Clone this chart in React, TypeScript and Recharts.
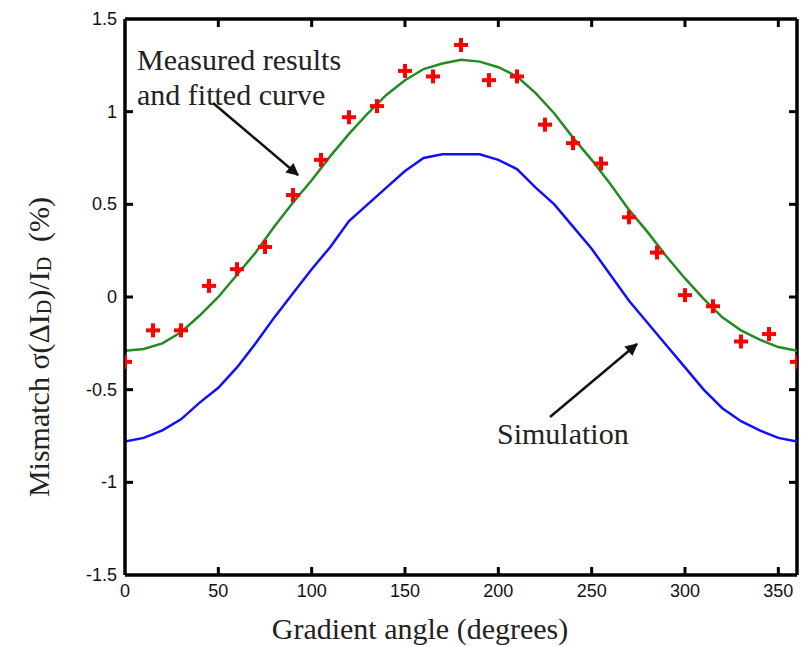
import { ComposedChart, Line, Scatter, XAxis, YAxis, ReferenceLine } from 'recharts';

// fitted curve + simulation, sampled every 10 degrees
const fitAngles = [0, 10, 20, 30, 40, 50, 60, 70, 80, 90, 100, 110, 120, 130, 140, 150, 160, 170, 180, 190, 200, 210, 220, 230, 240, 250, 260, 270, 280, 290, 300, 310, 320, 330, 340, 350, 360];
const fitValues = [-0.29, -0.28, -0.25, -0.19, -0.1, 0.0, 0.12, 0.24, 0.38, 0.51, 0.63, 0.76, 0.88, 0.99, 1.09, 1.17, 1.23, 1.26, 1.28, 1.27, 1.24, 1.19, 1.1, 0.99, 0.86, 0.74, 0.61, 0.47, 0.35, 0.22, 0.1, -0.01, -0.11, -0.18, -0.23, -0.27, -0.29];
const simValues = [-0.78, -0.76, -0.72, -0.66, -0.57, -0.49, -0.38, -0.25, -0.11, 0.02, 0.15, 0.27, 0.41, 0.5, 0.59, 0.68, 0.75, 0.77, 0.77, 0.77, 0.74, 0.69, 0.59, 0.5, 0.38, 0.26, 0.12, -0.02, -0.14, -0.26, -0.38, -0.5, -0.6, -0.67, -0.72, -0.76, -0.78];

// measured points, every 15 degrees
const measAngles = [0, 15, 30, 45, 60, 75, 90, 105, 120, 135, 150, 165, 180, 195, 210, 225, 240, 255, 270, 285, 300, 315, 330, 345, 360];
const measValues = [-0.35, -0.18, -0.18, 0.06, 0.15, 0.27, 0.55, 0.74, 0.97, 1.03, 1.22, 1.19, 1.36, 1.17, 1.19, 0.93, 0.83, 0.72, 0.43, 0.24, 0.01, -0.05, -0.24, -0.2, -0.35];

const xTicks = [0, 50, 100, 150, 200, 250, 300, 350];
const yTicks = [-1.5, -1, -0.5, 0, 0.5, 1, 1.5];

const X_MIN = 0;
const X_MAX = 360;
const Y_MIN = -1.5;
const Y_MAX = 1.5;

const tickFont = '"Liberation Sans Narrow", "Arial Narrow", "Liberation Sans", Arial, sans-serif';
const serif = '"Liberation Serif", "Times New Roman", serif';

const fitData = fitAngles.map((a, i) => ({ angle: a, fit: fitValues[i], sim: simValues[i] }));
const measData = measAngles.map((a, i) => ({ angle: a, value: measValues[i] }));

// positions of the inward tick marks on all four sides
const innerX = xTicks.filter((t) => t > X_MIN);
const innerY = yTicks.filter((t) => t > Y_MIN && t < Y_MAX);
const bottomMarks = innerX.map((t) => ({ angle: t, value: Y_MIN }));
const topMarks = innerX.map((t) => ({ angle: t, value: Y_MAX }));
const leftMarks = innerY.map((t) => ({ angle: X_MIN, value: t }));
const rightMarks = innerY.map((t) => ({ angle: X_MAX, value: t }));

// a tick drawn as a small filled rectangle hugging the frame, pointing inward
const TICK = 8;
const tickShape = (side: 'b' | 't' | 'l' | 'r') => ({ cx, cy }: any) => {
  if (cx == null || cy == null) return <g />;
  if (side === 'b') return <rect x={cx - 1.5} y={cy - TICK} width={3} height={TICK} fill="#000" />;
  if (side === 't') return <rect x={cx - 1.5} y={cy} width={3} height={TICK} fill="#000" />;
  if (side === 'l') return <rect x={cx} y={cy - 1.5} width={TICK} height={3} fill="#000" />;
  return <rect x={cx - TICK} y={cy - 1.5} width={TICK} height={3} fill="#000" />;
};

const BottomTick = ({ x, y, payload }: any) => (
  <text x={x} y={y + 22} textAnchor="middle" fontSize={18} fontFamily={tickFont} fill="#111">
    {payload.value}
  </text>
);

const LeftTick = ({ x, y, payload }: any) => (
  <text x={x - 8} y={y + 6} textAnchor="end" fontSize={18} fontFamily={tickFont} fill="#111">
    {payload.value}
  </text>
);

const PlusMarker = ({ cx, cy }: any) => (
  <g>
    <rect x={cx - 7} y={cy - 2} width={14} height={4} fill="#ff0000" />
    <rect x={cx - 2} y={cy - 7} width={4} height={14} fill="#ff0000" />
  </g>
);

export default function App() {
  return (
    <div style={{ position: 'absolute', left: 0, top: 0, width: 803, height: 647, background: '#fff' }}>
      <ComposedChart width={803} height={647} margin={{ top: 19, right: 6, bottom: 0, left: 0 }}>
        <XAxis
          dataKey="angle"
          type="number"
          domain={[X_MIN, X_MAX]}
          ticks={xTicks}
          allowDataOverflow
          height={72}
          tickSize={0}
          tickMargin={0}
          tick={BottomTick}
          axisLine={{ stroke: '#000', strokeWidth: 3.5 }}
          tickLine={false}
        />
        <YAxis
          dataKey="value"
          type="number"
          domain={[Y_MIN, Y_MAX]}
          ticks={yTicks}
          allowDataOverflow
          width={125}
          tickSize={0}
          tickMargin={0}
          tick={LeftTick}
          axisLine={{ stroke: '#000', strokeWidth: 3.5 }}
          tickLine={false}
        />
        {/* frame top / right */}
        <ReferenceLine y={Y_MAX} stroke="#000" strokeWidth={3.5} ifOverflow="visible" />
        <ReferenceLine x={X_MAX} stroke="#000" strokeWidth={3.5} ifOverflow="visible" />

        <Line data={fitData} dataKey="sim" type="linear" stroke="#1010ff" strokeWidth={2.5} dot={false} isAnimationActive={false} />
        <Line data={fitData} dataKey="fit" type="linear" stroke="#228b22" strokeWidth={2.5} dot={false} isAnimationActive={false} />
        <Scatter data={measData} dataKey="value" shape={PlusMarker} isAnimationActive={false} />

        {/* inward tick marks */}
        <Scatter data={bottomMarks} dataKey="value" fill="#000" shape={tickShape('b')} isAnimationActive={false} />
        <Scatter data={topMarks} dataKey="value" fill="#000" shape={tickShape('t')} isAnimationActive={false} />
        <Scatter data={leftMarks} dataKey="value" fill="#000" shape={tickShape('l')} isAnimationActive={false} />
        <Scatter data={rightMarks} dataKey="value" fill="#000" shape={tickShape('r')} isAnimationActive={false} />
      </ComposedChart>

      <svg width={803} height={647} style={{ position: 'absolute', left: 0, top: 0, pointerEvents: 'none' }}>
        <defs>
          <marker id="arrow" viewBox="0 0 10 10" refX="9" refY="5" markerWidth="5" markerHeight="5" orient="auto-start-reverse">
            <path d="M0,0 L10,5 L0,10 z" fill="#111" />
          </marker>
        </defs>
        <text x={137} y={70} fontSize={30} fontFamily={serif} fill="#222">Measured results</text>
        <text x={137} y={105} fontSize={30} fontFamily={serif} fill="#222">and fitted curve</text>
        <line x1={213} y1={103} x2={298} y2={175} stroke="#111" strokeWidth={2.5} markerEnd="url(#arrow)" />

        <text x={497} y={444} fontSize={30} fontFamily={serif} fill="#222">Simulation</text>
        <line x1={550} y1={417} x2={637} y2={344} stroke="#111" strokeWidth={2.5} markerEnd="url(#arrow)" />

        <text x={420} y={639} textAnchor="middle" fontSize={30} fontFamily={serif} fill="#222">
          Gradient angle (degrees)
        </text>
        <text
          transform="translate(49, 347) rotate(-90)"
          textAnchor="middle"
          fontSize={30}
          fontFamily={serif}
          fill="#222"
        >
          Mismatch σ(ΔI<tspan fontSize={20} dy={2}>D</tspan>
          <tspan dy={-2}>)/I</tspan>
          <tspan fontSize={20} dy={2}>D</tspan>
          <tspan dy={-2}>{'\u00a0\u00a0(%)'}</tspan>
        </text>
      </svg>
    </div>
  );
}
